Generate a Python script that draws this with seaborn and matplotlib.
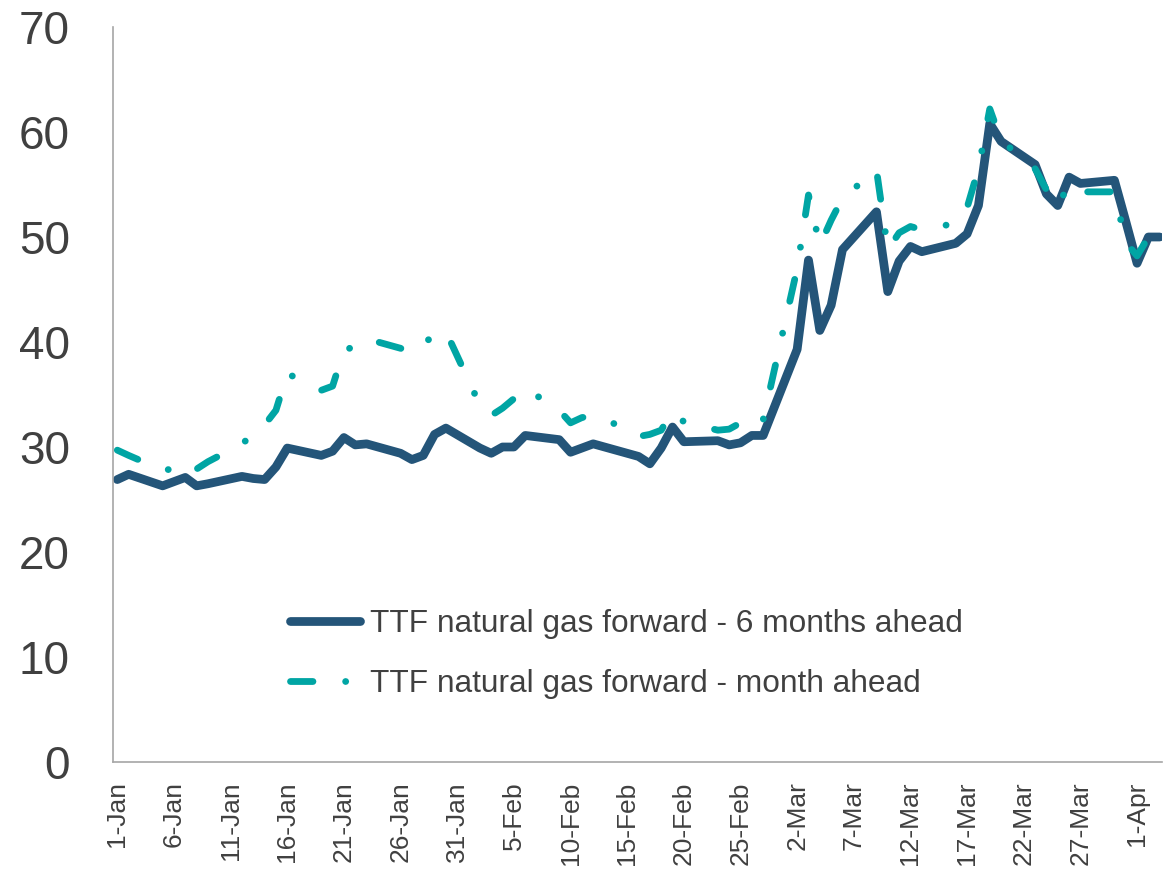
import matplotlib
matplotlib.use("Agg")
import matplotlib.pyplot as plt
import matplotlib.dates as mdates
import seaborn as sns
import pandas as pd
import numpy as np

# ---- data ----
trade_dates = [
    "2026-01-01", "2026-01-02", "2026-01-05", "2026-01-06", "2026-01-07", "2026-01-08", "2026-01-09",
    "2026-01-12", "2026-01-13", "2026-01-14", "2026-01-15", "2026-01-16",
    "2026-01-19", "2026-01-20", "2026-01-21", "2026-01-22", "2026-01-23",
    "2026-01-26", "2026-01-27", "2026-01-28", "2026-01-29", "2026-01-30",
    "2026-02-02", "2026-02-03", "2026-02-04", "2026-02-05", "2026-02-06",
    "2026-02-09", "2026-02-10", "2026-02-11", "2026-02-12", "2026-02-13",
    "2026-02-16", "2026-02-17", "2026-02-18", "2026-02-19", "2026-02-20",
    "2026-02-23", "2026-02-24", "2026-02-25", "2026-02-26", "2026-02-27",
    "2026-03-02", "2026-03-03", "2026-03-04", "2026-03-05", "2026-03-06",
    "2026-03-09", "2026-03-10", "2026-03-11", "2026-03-12", "2026-03-13",
    "2026-03-16", "2026-03-17", "2026-03-18", "2026-03-19", "2026-03-20",
    "2026-03-23", "2026-03-24", "2026-03-25", "2026-03-26", "2026-03-27",
    "2026-03-30", "2026-03-31", "2026-04-01", "2026-04-02", "2026-04-03",
]

six_months_ahead = [
    26.9, 27.4, 26.3, 26.7, 27.1, 26.3, 26.5,
    27.2, 27.0, 26.9, 28.1, 29.9,
    29.2, 29.6, 30.9, 30.2, 30.3,
    29.4, 28.8, 29.2, 31.2, 31.8,
    29.9, 29.4, 30.0, 30.0, 31.1,
    30.7, 29.5, 29.9, 30.3, 30.0,
    29.1, 28.4, 29.9, 31.9, 30.5,
    30.6, 30.2, 30.4, 31.1, 31.1,
    39.3, 47.8, 41.1, 43.5, 48.8,
    52.4, 44.8, 47.7, 49.1, 48.6,
    49.4, 50.3, 53.0, 60.8, 59.1,
    56.9, 54.1, 53.0, 55.7, 55.1,
    55.4, 51.5, 47.5, 50.0, 50.0,
]

month_ahead = [
    29.7, 29.2, 27.8, 27.9, 28.5, 27.9, 28.6,
    30.3, 31.2, 32.1, 33.5, 37.0,
    35.4, 35.8, 39.2, 39.6, 40.3,
    39.4, 39.0, 39.8, 40.7, 41.0,
    34.0, 33.0, 33.7, 34.6, 35.6,
    33.5, 32.3, 32.8, 33.0, 32.7,
    31.0, 31.2, 31.6, 33.4, 32.4,
    31.6, 31.7, 32.3, 31.8, 32.6,
    47.0, 54.0, 49.2, 51.6, 53.7,
    56.4, 48.8, 50.4, 51.0, 50.7,
    51.3, 52.8, 56.5, 62.2, 59.2,
    56.5, 54.5, 53.0, 55.0, 54.3,
    54.3, 49.5, 48.2, 50.0,
]

series_labels = ["TTF natural gas forward - 6 months ahead",
                 "TTF natural gas forward - month ahead"]
y_ticks = [0, 10, 20, 30, 40, 50, 60, 70]

# ---- build frames ----
dates = pd.to_datetime(trade_dates)
df6 = pd.DataFrame({"date": dates, "value": six_months_ahead})
df1 = pd.DataFrame({"date": dates[:len(month_ahead)], "value": month_ahead})

DARK = "#245579"
TEAL = "#00A5A4"
TXT = "#404040"
GRID = "#A6A6A6"

sns.set_theme(style="white")
plt.rcParams["font.family"] = ["Liberation Sans", "DejaVu Sans"]

fig = plt.figure(figsize=(11.75, 8.81), dpi=100)
ax = fig.add_axes([113 / 1175, 1 - 762 / 881, (1162 - 113) / 1175, (762 - 27) / 881])

sns.lineplot(data=df6, x="date", y="value", ax=ax, color=DARK, linewidth=6.3,
             label=series_labels[0])
l6 = ax.lines[-1]
l6.set_solid_joinstyle("round")
l6.set_solid_capstyle("round")

sns.lineplot(data=df1, x="date", y="value", ax=ax, color=TEAL, linewidth=4.9,
             label=series_labels[1])
l1 = ax.lines[-1]
l1.set_dashes((3.3, 4.8, 0.01, 4.8))
l1.set_dash_capstyle("round")
l1.set_dash_joinstyle("round")

# axes
ax.set_ylim(0, 70)
ax.set_yticks(y_ticks)
start = pd.Timestamp("2026-01-01")
ax.set_xlim(mdates.date2num(start) - 0.38, mdates.date2num(pd.Timestamp("2026-04-03")) + 0.2)
xt = pd.date_range("2026-01-01", "2026-04-01", freq="5D")
ax.set_xticks(mdates.date2num(xt))
ax.set_xticklabels([f"{d.day}-{d.strftime('%b')}" for d in xt], rotation=90)

ax.set_xlabel("")
ax.set_ylabel("")
for s in ["top", "right"]:
    ax.spines[s].set_visible(False)
for s in ["left", "bottom"]:
    ax.spines[s].set_color(GRID)
    ax.spines[s].set_linewidth(1.2)
ax.tick_params(axis="y", length=0, pad=31, labelsize=33, labelcolor=TXT)
ax.tick_params(axis="x", length=0, pad=14, labelsize=19, labelcolor=TXT)

leg = ax.legend(loc="center left", bbox_to_anchor=(290 / 1175, 1 - 654 / 881),
                bbox_transform=fig.transFigure, frameon=False, fontsize=22.8,
                handlelength=2.2, handletextpad=0.33, labelspacing=0.95,
                borderaxespad=0, borderpad=0)
for t in leg.get_texts():
    t.set_color(TXT)

fig.savefig("out.png", dpi=100)
